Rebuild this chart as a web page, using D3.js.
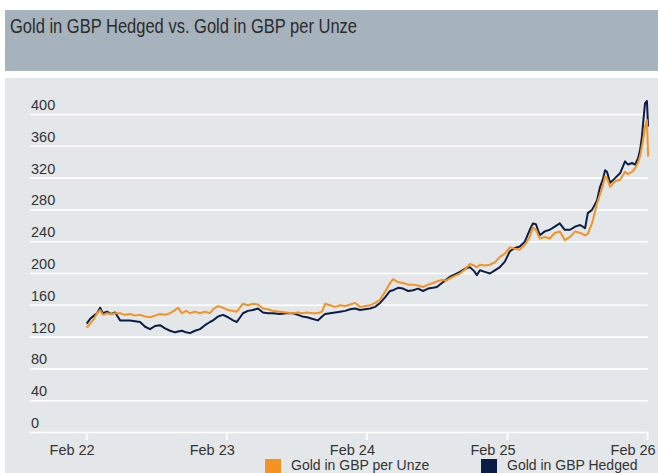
<!DOCTYPE html>
<html><head><meta charset="utf-8">
<script src="https://cdn.jsdelivr.net/npm/d3@7"></script>
<style>
html,body{margin:0;padding:0;background:#fff;}
svg{display:block;}
</style></head>
<body>
<svg id="chart" width="658" height="473"></svg>
<script>
const title = "Gold in GBP Hedged vs. Gold in GBP per Unze";
const seriesNames = ["Gold in GBP per Unze", "Gold in GBP Hedged"];
const dates = ["2022-02-01","2022-02-10","2022-02-20","2022-02-28","2022-03-08","2022-03-15","2022-03-26","2022-04-05","2022-04-16","2022-04-29","2022-05-12","2022-05-25","2022-06-07","2022-06-20","2022-07-03","2022-07-16","2022-07-29","2022-08-11","2022-08-24","2022-09-06","2022-09-19","2022-09-27","2022-10-07","2022-10-18","2022-10-28","2022-11-10","2022-11-23","2022-12-06","2022-12-19","2022-12-27","2023-01-09","2023-01-22","2023-02-04","2023-02-17","2023-02-27","2023-03-15","2023-03-28","2023-04-10","2023-04-23","2023-05-06","2023-05-19","2023-06-01","2023-06-19","2023-07-05","2023-07-23","2023-08-05","2023-08-16","2023-08-29","2023-09-11","2023-09-26","2023-10-07","2023-10-15","2023-10-28","2023-11-10","2023-11-23","2023-12-06","2023-12-19","2024-01-01","2024-01-14","2024-01-27","2024-02-09","2024-02-22","2024-03-06","2024-03-19","2024-04-01","2024-04-09","2024-04-22","2024-05-05","2024-05-18","2024-05-31","2024-06-13","2024-06-26","2024-07-09","2024-07-22","2024-08-01","2024-08-14","2024-08-25","2024-09-04","2024-09-17","2024-09-30","2024-10-13","2024-10-26","2024-11-06","2024-11-13","2024-11-21","2024-12-04","2024-12-17","2024-12-30","2025-01-12","2025-01-25","2025-02-07","2025-02-20","2025-03-05","2025-03-18","2025-03-31","2025-04-08","2025-04-16","2025-04-26","2025-05-09","2025-05-22","2025-06-04","2025-06-17","2025-06-30","2025-07-14","2025-07-27","2025-08-09","2025-08-22","2025-08-29","2025-09-09","2025-09-22","2025-09-30","2025-10-07","2025-10-13","2025-10-18","2025-10-26","2025-11-08","2025-11-21","2025-12-04","2025-12-12","2025-12-22","2025-12-30","2026-01-07","2026-01-12","2026-01-17","2026-01-20","2026-01-25","2026-01-30","2026-02-02"];
const hedged = [137,143,147,150,157,150,152,149,151,141,141,141,140,139,133,130,134,135,131,128,126,127,128,126,125,128,130,135,139,141,146,148,145,141,139,150,153,154,156,151,150,150,149,150,150,148,146,145,143,141,146,149,150,151,152,153,155,156,154,155,156,158,163,170,178,179,182,181,178,179,181,178,181,182,183,188,192,196,199,202,206,208,203,198,204,202,200,204,208,215,228,232,234,240,255,263,262,248,253,255,259,263,255,255,259,261,257,276,280,292,309,318,330,328,314,320,326,341,337,339,337,345,355,372,389,414,417,385];
const perOunce = [132,137,143,150,154,148,150,149,150,150,148,149,147,148,146,145,147,149,148,150,154,157,150,153,150,152,150,152,150,155,159,157,154,153,152,162,160,162,161,156,155,153,152,151,150,151,150,151,150,150,152,162,160,158,160,159,161,163,158,159,160,163,167,177,188,193,189,188,186,186,185,183,186,188,190,192,191,194,197,200,205,212,210,208,211,210,211,214,221,225,233,231,230,236,246,258,255,244,246,244,251,253,242,246,253,251,248,250,263,288,300,310,322,320,309,316,318,328,325,328,332,340,347,360,368,385,393,347];
const yTicks = [0,40,80,120,160,200,240,280,320,360,400];
const xTickDates = ["2022-02-01","2023-02-01","2024-02-01","2025-02-01","2026-02-01"];
const xTickLabels = ["Feb 22","Feb 23","Feb 24","Feb 25","Feb 26"];
const colors = ["#f39324", "#0c1d45"];

const parse = d3.timeParse("%Y-%m-%d");
const svg = d3.select("#chart");
const font = "'Liberation Sans', Arial, sans-serif";

// header band
svg.append("rect").attr("x",5).attr("y",10).attr("width",653).attr("height",61).attr("fill","#a6b3bd");
svg.append("text").attr("x",10).attr("y",32.5)
  .attr("font-family",font)
  .attr("font-size",20).attr("fill","#2b2b2b")
  .attr("textLength",347).attr("lengthAdjust","spacingAndGlyphs")
  .text(title);

// panel
svg.append("rect").attr("x",5).attr("y",78).attr("width",653).attr("height",395).attr("fill","#e4e7ea");

const x = d3.scaleTime().domain([parse("2022-02-01"), parse("2026-02-01")]).range([86.7, 647.7]);
const y = d3.scaleLinear().domain([0,400]).range([432.5, 114.5]);

// gridlines
const g = svg.append("g");
g.selectAll("line.grid").data(yTicks).join("line")
  .attr("x1",30).attr("x2",647.7)
  .attr("y1",d=>y(d)).attr("y2",d=>y(d))
  .attr("stroke","#ffffff").attr("stroke-width",1.6);
g.selectAll("text.yl").data(yTicks).join("text")
  .attr("x",31).attr("y",d=>y(d)-4.5)
  .attr("font-family",font).attr("font-size",14.5).attr("fill","#333")
  .text(d=>d);

// x ticks
const xt = xTickDates.map(parse);
g.selectAll("line.xt").data(xt).join("line")
  .attr("x1",d=>x(d)).attr("x2",d=>x(d)).attr("y1",432.5).attr("y2",440)
  .attr("stroke","#ffffff").attr("stroke-width",1.6);
g.selectAll("text.xl").data(xt).join("text")
  .attr("x",d=>x(d)+8).attr("y",454.5).attr("text-anchor","end")
  .attr("font-family",font).attr("font-size",14.5).attr("fill","#333")
  .text((d,i)=>xTickLabels[i]);

// lines
const pts = dates.map(parse);
const line = d3.line().x(d=>x(d[0])).y(d=>y(d[1]));
svg.append("path").datum(pts.map((d,i)=>[d,hedged[i]]))
  .attr("d",line).attr("fill","none").attr("stroke",colors[1]).attr("stroke-width",2).attr("stroke-linejoin","round");
svg.append("path").datum(pts.map((d,i)=>[d,perOunce[i]]))
  .attr("d",line).attr("fill","none").attr("stroke",colors[0]).attr("stroke-width",2).attr("stroke-linejoin","round");

// legend
const legX = [265, 481];
seriesNames.forEach((n,i)=>{
  svg.append("rect").attr("x",legX[i]).attr("y",459).attr("width",16).attr("height",14).attr("fill",colors[i]);
  svg.append("text").attr("x",legX[i]+26).attr("y",470)
    .attr("font-family",font).attr("font-size",14).attr("fill","#333").text(n);
});
</script>
</body></html>
